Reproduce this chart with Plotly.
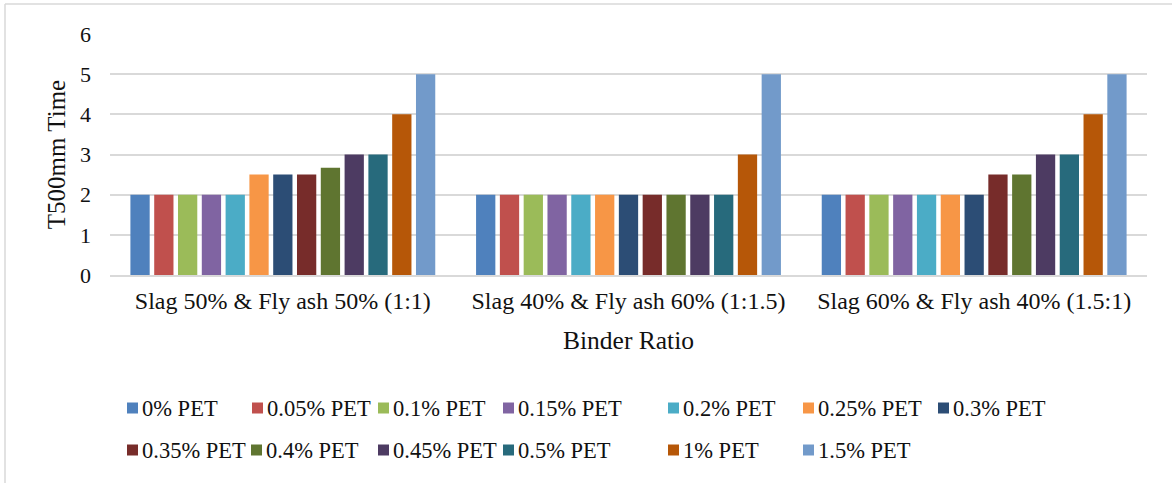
import plotly.graph_objects as go

# Binder ratio groups on the category axis
categories = [
    "Slag 50% & Fly ash 50% (1:1)",
    "Slag 40% & Fly ash 60% (1:1.5)",
    "Slag 60% & Fly ash 40% (1.5:1)",
]

# PET dosage series
series_names = [
    "0% PET", "0.05% PET", "0.1% PET", "0.15% PET", "0.2% PET", "0.25% PET",
    "0.3% PET", "0.35% PET", "0.4% PET", "0.45% PET", "0.5% PET", "1% PET", "1.5% PET",
]

# T500mm time per binder group, one list per PET dosage
pet_0 = [2, 2, 2]
pet_005 = [2, 2, 2]
pet_01 = [2, 2, 2]
pet_015 = [2, 2, 2]
pet_02 = [2, 2, 2]
pet_025 = [2.5, 2, 2]
pet_03 = [2.5, 2, 2]
pet_035 = [2.5, 2, 2.5]
pet_04 = [2.67, 2, 2.5]
pet_045 = [3, 2, 3]
pet_05 = [3, 2, 3]
pet_1 = [4, 3, 4]
pet_15 = [5, 5, 5]

series_values = [
    pet_0, pet_005, pet_01, pet_015, pet_02, pet_025, pet_03,
    pet_035, pet_04, pet_045, pet_05, pet_1, pet_15,
]

colors = [
    "#4F81BD", "#C0504D", "#9BBB59", "#8064A2", "#4BACC6", "#F79646", "#2C4D75",
    "#772C2A", "#5F7530", "#4D3B62", "#276A7C", "#B65708", "#729ACA",
]

W, H = 1172, 483
ML, MR, MT, MB = 110, 25, 34, 208
PW, PH = W - ML - MR, H - MT - MB

FONT = "Liberation Serif"
TXT = "#111111"

# legend entry placement (text start x in px, row centre y in px)
legend_text_x = [142, 267, 393, 518, 683, 818, 953, 142, 266, 393, 518, 683, 818]
legend_row_y = [408] * 7 + [450] * 6
SWATCH = 11


def px_x(px):
    return (px - ML) / PW


def px_y(py):
    return (H - MB - py) / PH


fig = go.Figure()
for name, vals, col in zip(series_names, series_values, colors):
    fig.add_trace(go.Bar(
        x=categories, y=vals, name=name,
        marker=dict(color=col, line=dict(width=0)),
        showlegend=False,
    ))

# legend: coloured square followed by the series name
for name, col, tx, ty in zip(series_names, colors, legend_text_x, legend_row_y):
    fig.add_shape(type="rect", xref="paper", yref="paper",
                  x0=px_x(tx - 15), x1=px_x(tx - 15 + SWATCH),
                  y0=px_y(ty - SWATCH / 2), y1=px_y(ty + SWATCH / 2),
                  fillcolor=col, line=dict(width=0))
    fig.add_annotation(text=name, xref="paper", yref="paper",
                       x=px_x(tx - 2), y=px_y(ty), xanchor="left", yanchor="middle",
                       showarrow=False, font=dict(family=FONT, size=22.5, color=TXT))

fig.update_layout(
    width=W, height=H,
    margin=dict(l=ML, r=MR, t=MT, b=MB, pad=0),
    paper_bgcolor="white", plot_bgcolor="white",
    barmode="group", bargap=0.105, bargroupgap=0.19,
    font=dict(family=FONT, color=TXT),
    showlegend=False,
)

fig.update_xaxes(
    showgrid=False, showline=True, linecolor="#d9d9d9", linewidth=2,
    ticks="", tickfont=dict(family=FONT, size=24, color=TXT),
    ticklabelstandoff=3,
    title=dict(text="Binder Ratio", font=dict(family=FONT, size=25.5, color=TXT), standoff=18),
)
fig.update_yaxes(
    range=[0, 6], dtick=1, showgrid=True, gridcolor="#d9d9d9", gridwidth=1.5,
    zeroline=False, showline=False, ticks="",
    tickfont=dict(family=FONT, size=22, color=TXT),
    ticklabelstandoff=18,
    title=dict(text="T500mm Time", font=dict(family=FONT, size=25, color=TXT), standoff=7),
)

# chart frame edges along the top and left
fig.add_shape(type="line", xref="paper", yref="paper",
              x0=px_x(5), x1=px_x(W), y0=px_y(4), y1=px_y(4),
              line=dict(color="#d9d9d9", width=1.5))
fig.add_shape(type="line", xref="paper", yref="paper",
              x0=px_x(5), x1=px_x(5), y0=px_y(4), y1=px_y(H),
              line=dict(color="#d9d9d9", width=1.5))

fig.write_html("out.html")
